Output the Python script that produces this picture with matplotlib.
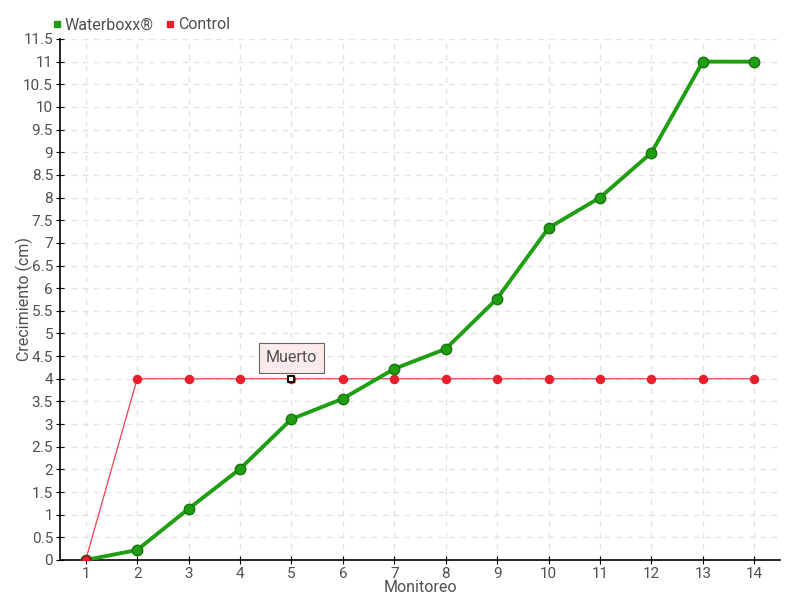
import numpy as np
import matplotlib.pyplot as plt
from matplotlib.lines import Line2D

monitoreo = list(range(1, 15))
waterboxx = [0, 0.22, 1.13, 2.01, 3.11, 3.56, 4.22, 4.66, 5.77, 7.33, 8.0, 8.99, 11.0, 11.0]
control = [0, 4, 4, 4, 4, 4, 4, 4, 4, 4, 4, 4, 4, 4]
muerto_idx = 4
yticks = np.arange(0, 11.6, 0.5)

plt.rcParams['font.family'] = ['Roboto', 'DejaVu Sans']
plt.rcParams['font.stretch'] = 'condensed'

txt = '#505050'
fs = 11.5
fig = plt.figure(figsize=(8, 6), dpi=100)
ax = fig.add_axes([0.075, 0.0667, 0.9, 0.8683])

ax.plot(monitoreo, waterboxx, color='#1f9e12', lw=2.8, zorder=3,
        marker='o', ms=7.5, mfc='#1f9e12', mec='#16750d', mew=1)
ax.plot(monitoreo, control, color='#f0404f', lw=0.9, zorder=2,
        marker='o', ms=5.8, mfc='#e8202e', mec='#e8202e')
ax.plot(monitoreo[0], control[0], 'o', ms=6.5, mfc='#e8202e', mec='#8a1a1a', mew=1, zorder=4)
ax.plot(monitoreo[muerto_idx], control[muerto_idx], 's', ms=4.5, mfc='white', mec='black', mew=1.3, zorder=5)

ax.annotate('Muerto', xy=(monitoreo[muerto_idx], control[muerto_idx]),
            xytext=(0, 15), textcoords='offset points', ha='center', va='center',
            fontsize=fs, color=txt, zorder=6,
            bbox=dict(boxstyle='square,pad=0.45', fc='#fdeaea', ec='#666666', lw=0.8))

ax.set_xlim(0.5, 14.5)
ax.set_ylim(0, 11.5)
ax.set_xticks(monitoreo)
ax.set_yticks(yticks)
ax.set_yticklabels([f'{v:g}' for v in yticks])
ax.grid(True, color='#e3e3e3', ls=(0, (4, 4)), lw=1)
ax.set_axisbelow(True)
for s in ['top', 'right']:
    ax.spines[s].set_visible(False)
for s in ['left', 'bottom']:
    ax.spines[s].set_color('black')
    ax.spines[s].set_linewidth(1.2)
ax.tick_params(axis='both', direction='inout', length=6, labelsize=11, labelcolor=txt, pad=2)
ax.set_xlabel('Monitoreo', fontsize=fs, color=txt, labelpad=-1)
ax.set_ylabel('Crecimiento (cm)', fontsize=fs, color=txt)
ax.yaxis.set_label_coords(-0.037, 0.5)

h = [Line2D([], [], ls='none', marker='s', ms=5, color='#1f9e12'),
     Line2D([], [], ls='none', marker='s', ms=5, color='#e8202e')]
fig.legend(h, ['Waterboxx®', 'Control'], loc='upper left', bbox_to_anchor=(0.045, 0.995),
           ncol=2, frameon=False, fontsize=fs, labelcolor=txt, handletextpad=0.1,
           columnspacing=0.6, handlelength=0.8)

fig.savefig('out.png', dpi=100)
